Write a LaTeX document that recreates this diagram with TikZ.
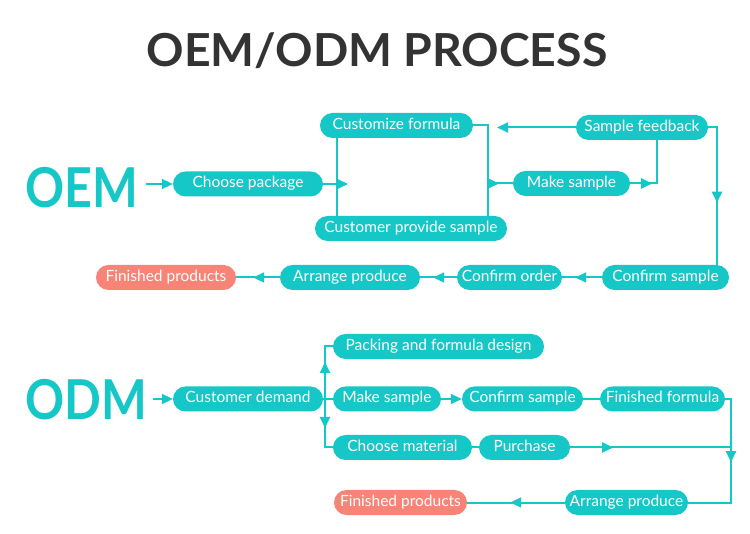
\documentclass[tikz,border=0pt]{standalone}
\usepackage{fontspec}
\usepackage{graphicx}
\setmainfont{Lato}
\usetikzlibrary{arrows.meta,decorations.markings}
\definecolor{teal1}{RGB}{22,199,199}
\definecolor{salmon1}{RGB}{247,132,118}
\definecolor{title1}{RGB}{51,51,51}
\tikzset{
  pill/.style={rectangle, rounded corners=12.5pt, fill=teal1, text=white,
    minimum height=25pt, inner sep=0pt, text height=11pt, text depth=3pt,
    font=\fontsize{15.5}{18}\selectfont, minimum width=#1},
  pillr/.style={pill=#1, fill=salmon1},
  conn/.style={color=teal1, line width=2pt},
  tip/.style={-{Triangle[length=11pt,width=10pt]}},
  midarr/.style={postaction={decorate,decoration={markings,
    mark=at position #1 with {\arrow{Triangle[length=11pt,width=10pt]}}}}},
  biglabel/.style={text=teal1, font=\fontsize{55}{60}\selectfont\bfseries, inner sep=0pt, anchor=base west},
  titlelabel/.style={text=title1, font=\fontsize{45.5}{50}\selectfont\bfseries, inner sep=0pt, anchor=base}
}
\begin{document}
\begin{tikzpicture}[x=1pt,y=-1pt]
\useasboundingbox (0,0) rectangle (750,534);
\node[titlelabel] (title) at (377,67) {\scalebox{1.02}[1]{OEM/ODM PROCESS}};

% ---------- OEM ----------
\node[biglabel] (oem) at (25,208) {\scalebox{0.88}[1]{OEM}};
\node[pill=150pt] (cp) at (248,184) {Choose package};
\node[pill=153pt] (cf) at (396.5,125.5) {Customize formula};
\node[pill=192pt] (cps) at (411,228.5) {Customer provide sample};
\node[pill=117pt] (ms) at (571.5,183.5) {Make sample};
\node[pill=132pt] (sf) at (642,127.5) {Sample feedback};
\node[pill=127pt] (cs) at (665.5,277.5) {Confirm sample};
\node[pill=105pt] (co) at (509.5,277.5) {Confirm order};
\node[pill=140pt] (ap) at (350,277.5) {Arrange produce};
\node[pillr=140pt] (fp) at (166,277.5) {Finished products};

\coordinate (bl) at (337,184);
\coordinate (blt) at (348,184);
\coordinate (br) at (488,183.5);
\coordinate (xf) at (657,160);
\coordinate (cfin) at (497,127.5);
\coordinate (xr1) at (717,200);

\draw[conn,tip,shorten <=8pt] (oem.east |- cp.west) -- (cp.west);
\draw[conn] (cf.south -| bl) -- (cps.north -| bl);
\draw[conn,tip] (cp.east) -- (blt);
\draw[conn] (cf.east) -| (cps.north -| br);
\draw[conn,midarr=11pt] (br) -- (ms.west);
\draw[conn,midarr=22pt] (ms.east) -| (sf.south -| xf);
\draw[conn,tip] (sf.west) -- (cfin);
\draw[conn,midarr=84pt] (sf.east) -| (cs.north -| xr1);
\draw[conn,midarr=-13pt] (cs.west) -- (co.east);
\draw[conn,midarr=-13pt] (co.west) -- (ap.east);
\draw[conn,midarr=-17pt] (ap.west) -- (fp.east);

% ---------- ODM ----------
\node[biglabel] (odm) at (25,420) {\scalebox{0.88}[1]{ODM}};
\node[pill=150pt] (cd) at (248,399) {Customer demand};
\node[pill=211pt] (pf) at (438.5,346.5) {Packing and formula design};
\node[pill=108pt] (ms2) at (387,399) {Make sample};
\node[pill=121pt] (cs2) at (522.5,399) {Confirm sample};
\node[pill=125pt] (ff) at (662.5,399) {Finished formula};
\node[pill=139pt] (cm) at (402.5,447.5) {Choose material};
\node[pill=91pt] (pu) at (524.5,447.5) {Purchase};
\node[pill=123pt] (ap2) at (626.5,502.5) {Arrange produce};
\node[pillr=133pt] (fp2) at (400.5,502.5) {Finished products};

\coordinate (vx) at (325,399);
\coordinate (xr2) at (731,450);

\draw[conn,tip,shorten <=6pt] (odm.east |- cd.west) -- (cd.west);
\draw[conn] (cd.east) -- (ms2.west);
\draw[conn,midarr=37pt] (vx) |- (pf.west);
\draw[conn,midarr=29pt] (vx) |- (cm.west);
\draw[conn,tip] (ms2.east) -- (cs2.west);
\draw[conn] (cs2.east) -- (ff.west);
\draw[conn,midarr=69pt] (ff.east) -| (ap2.east -| xr2) -- (ap2.east);
\draw[conn] (cm.east) -- (pu.west);
\draw[conn,midarr=43pt] (pu.east) -- (pu.east -| xr2);
\draw[conn,midarr=-43pt] (ap2.west) -- (fp2.east);
\end{tikzpicture}
\end{document}
